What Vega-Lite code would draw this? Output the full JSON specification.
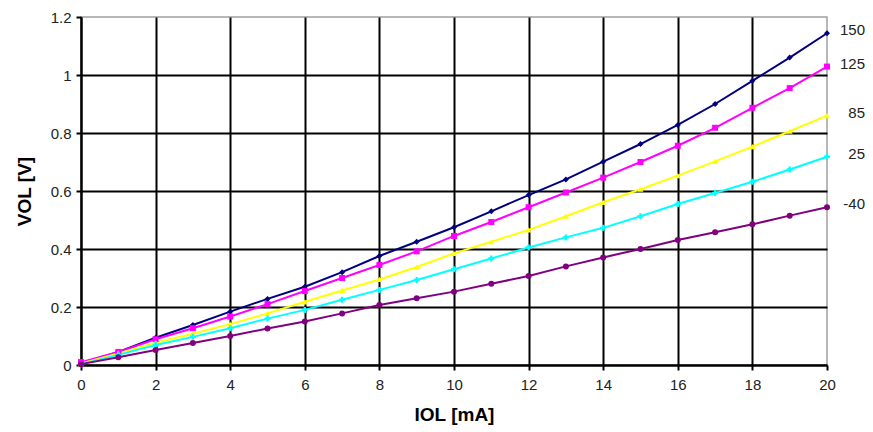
{
  "$schema": "https://vega.github.io/schema/vega-lite/v6.json",
  "autosize": "none",
  "width": 746,
  "height": 348,
  "padding": {"left": 81, "top": 17, "right": 46, "bottom": 67},
  "background": "white",
  "config": {
    "font": "Liberation Sans",
    "view": {"stroke": "#a0a0a0", "strokeWidth": 1.5},
    "axis": {
      "labelFont": "Liberation Sans",
      "labelFontSize": 15,
      "labelColor": "#222222",
      "labelFlush": false,
      "titleFont": "Liberation Sans",
      "titleFontSize": 19,
      "titleFontWeight": "bold",
      "titleColor": "#000000",
      "domainColor": "#000000",
      "domainWidth": 2,
      "tickColor": "#000000",
      "tickWidth": 2,
      "tickSize": 5,
      "gridWidth": 2,
      "gridOpacity": 1
    }
  },
  "data": {
    "values": [
      {"T": "150", "IOL": 0, "VOL": 0.005}, {"T": "150", "IOL": 1, "VOL": 0.045}, {"T": "150", "IOL": 2, "VOL": 0.094}, {"T": "150", "IOL": 3, "VOL": 0.138}, {"T": "150", "IOL": 4, "VOL": 0.184}, {"T": "150", "IOL": 5, "VOL": 0.228}, {"T": "150", "IOL": 6, "VOL": 0.27}, {"T": "150", "IOL": 7, "VOL": 0.32}, {"T": "150", "IOL": 8, "VOL": 0.376}, {"T": "150", "IOL": 9, "VOL": 0.425}, {"T": "150", "IOL": 10, "VOL": 0.475}, {"T": "150", "IOL": 11, "VOL": 0.53}, {"T": "150", "IOL": 12, "VOL": 0.586}, {"T": "150", "IOL": 13, "VOL": 0.64}, {"T": "150", "IOL": 14, "VOL": 0.701}, {"T": "150", "IOL": 15, "VOL": 0.762}, {"T": "150", "IOL": 16, "VOL": 0.828}, {"T": "150", "IOL": 17, "VOL": 0.9}, {"T": "150", "IOL": 18, "VOL": 0.98}, {"T": "150", "IOL": 19, "VOL": 1.06}, {"T": "150", "IOL": 20, "VOL": 1.144},
      {"T": "125", "IOL": 0, "VOL": 0.01}, {"T": "125", "IOL": 1, "VOL": 0.045}, {"T": "125", "IOL": 2, "VOL": 0.089}, {"T": "125", "IOL": 3, "VOL": 0.127}, {"T": "125", "IOL": 4, "VOL": 0.167}, {"T": "125", "IOL": 5, "VOL": 0.21}, {"T": "125", "IOL": 6, "VOL": 0.255}, {"T": "125", "IOL": 7, "VOL": 0.3}, {"T": "125", "IOL": 8, "VOL": 0.345}, {"T": "125", "IOL": 9, "VOL": 0.392}, {"T": "125", "IOL": 10, "VOL": 0.445}, {"T": "125", "IOL": 11, "VOL": 0.493}, {"T": "125", "IOL": 12, "VOL": 0.544}, {"T": "125", "IOL": 13, "VOL": 0.595}, {"T": "125", "IOL": 14, "VOL": 0.646}, {"T": "125", "IOL": 15, "VOL": 0.7}, {"T": "125", "IOL": 16, "VOL": 0.756}, {"T": "125", "IOL": 17, "VOL": 0.818}, {"T": "125", "IOL": 18, "VOL": 0.887}, {"T": "125", "IOL": 19, "VOL": 0.955}, {"T": "125", "IOL": 20, "VOL": 1.029},
      {"T": "85", "IOL": 0, "VOL": 0.005}, {"T": "85", "IOL": 1, "VOL": 0.04}, {"T": "85", "IOL": 2, "VOL": 0.077}, {"T": "85", "IOL": 3, "VOL": 0.108}, {"T": "85", "IOL": 4, "VOL": 0.141}, {"T": "85", "IOL": 5, "VOL": 0.178}, {"T": "85", "IOL": 6, "VOL": 0.218}, {"T": "85", "IOL": 7, "VOL": 0.257}, {"T": "85", "IOL": 8, "VOL": 0.295}, {"T": "85", "IOL": 9, "VOL": 0.338}, {"T": "85", "IOL": 10, "VOL": 0.385}, {"T": "85", "IOL": 11, "VOL": 0.425}, {"T": "85", "IOL": 12, "VOL": 0.466}, {"T": "85", "IOL": 13, "VOL": 0.513}, {"T": "85", "IOL": 14, "VOL": 0.561}, {"T": "85", "IOL": 15, "VOL": 0.606}, {"T": "85", "IOL": 16, "VOL": 0.653}, {"T": "85", "IOL": 17, "VOL": 0.702}, {"T": "85", "IOL": 18, "VOL": 0.753}, {"T": "85", "IOL": 19, "VOL": 0.806}, {"T": "85", "IOL": 20, "VOL": 0.86},
      {"T": "25", "IOL": 0, "VOL": 0.003}, {"T": "25", "IOL": 1, "VOL": 0.035}, {"T": "25", "IOL": 2, "VOL": 0.069}, {"T": "25", "IOL": 3, "VOL": 0.097}, {"T": "25", "IOL": 4, "VOL": 0.127}, {"T": "25", "IOL": 5, "VOL": 0.16}, {"T": "25", "IOL": 6, "VOL": 0.19}, {"T": "25", "IOL": 7, "VOL": 0.225}, {"T": "25", "IOL": 8, "VOL": 0.259}, {"T": "25", "IOL": 9, "VOL": 0.293}, {"T": "25", "IOL": 10, "VOL": 0.33}, {"T": "25", "IOL": 11, "VOL": 0.367}, {"T": "25", "IOL": 12, "VOL": 0.405}, {"T": "25", "IOL": 13, "VOL": 0.44}, {"T": "25", "IOL": 14, "VOL": 0.473}, {"T": "25", "IOL": 15, "VOL": 0.513}, {"T": "25", "IOL": 16, "VOL": 0.555}, {"T": "25", "IOL": 17, "VOL": 0.593}, {"T": "25", "IOL": 18, "VOL": 0.632}, {"T": "25", "IOL": 19, "VOL": 0.674}, {"T": "25", "IOL": 20, "VOL": 0.718},
      {"T": "-40", "IOL": 0, "VOL": 0.003}, {"T": "-40", "IOL": 1, "VOL": 0.027}, {"T": "-40", "IOL": 2, "VOL": 0.052}, {"T": "-40", "IOL": 3, "VOL": 0.076}, {"T": "-40", "IOL": 4, "VOL": 0.1}, {"T": "-40", "IOL": 5, "VOL": 0.126}, {"T": "-40", "IOL": 6, "VOL": 0.15}, {"T": "-40", "IOL": 7, "VOL": 0.178}, {"T": "-40", "IOL": 8, "VOL": 0.207}, {"T": "-40", "IOL": 9, "VOL": 0.23}, {"T": "-40", "IOL": 10, "VOL": 0.253}, {"T": "-40", "IOL": 11, "VOL": 0.28}, {"T": "-40", "IOL": 12, "VOL": 0.307}, {"T": "-40", "IOL": 13, "VOL": 0.34}, {"T": "-40", "IOL": 14, "VOL": 0.371}, {"T": "-40", "IOL": 15, "VOL": 0.4}, {"T": "-40", "IOL": 16, "VOL": 0.431}, {"T": "-40", "IOL": 17, "VOL": 0.458}, {"T": "-40", "IOL": 18, "VOL": 0.485}, {"T": "-40", "IOL": 19, "VOL": 0.515}, {"T": "-40", "IOL": 20, "VOL": 0.544}
    ]
  },
  "encoding": {
    "x": {
      "field": "IOL", "type": "quantitative",
      "scale": {"domain": [0, 20], "nice": false, "zero": false},
      "axis": {
        "title": "IOL [mA]",
        "values": [0, 2, 4, 6, 8, 10, 12, 14, 16, 18, 20],
        "labelPadding": 7,
        "titlePadding": 13,
        "gridColor": {"condition": {"test": "datum.value >= 20", "value": "transparent"}, "value": "#000000"}
      }
    },
    "y": {
      "field": "VOL", "type": "quantitative",
      "scale": {"domain": [0, 1.2], "nice": false},
      "axis": {
        "title": "VOL [V]",
        "values": [0, 0.2, 0.4, 0.6, 0.8, 1, 1.2],
        "format": "~g",
        "labelPadding": 5,
        "titlePadding": 16,
        "gridColor": {"condition": {"test": "datum.value >= 1.2", "value": "transparent"}, "value": "#000000"}
      }
    },
    "color": {
      "field": "T", "type": "nominal",
      "scale": {"domain": ["150", "125", "85", "25", "-40"], "range": ["#000080", "#FF00FF", "#FFFF00", "#00FFFF", "#800080"]},
      "legend": null
    }
  },
  "layer": [
    {"mark": {"type": "line", "strokeWidth": 2}},
    {
      "mark": {"type": "point", "filled": true, "size": 36, "opacity": 1},
      "encoding": {
        "shape": {
          "field": "T", "type": "nominal",
          "scale": {"domain": ["150", "125", "85", "25", "-40"], "range": ["diamond", "square", "triangle-up", "cross", "circle"]},
          "legend": null
        }
      }
    },
    {
      "transform": [{"filter": "datum.IOL == 20"}],
      "mark": {"type": "text", "align": "right", "dx": 38, "dy": -3, "fontSize": 15, "font": "Liberation Sans", "color": "#222222"},
      "encoding": {
        "text": {"field": "T"},
        "color": {"value": "#222222"}
      }
    }
  ]
}
